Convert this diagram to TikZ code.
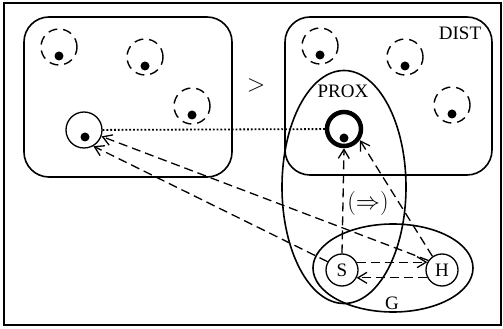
\documentclass[tikz,border=0pt]{standalone}
\usepackage{fontspec}
\setmainfont{Liberation Serif}
\usetikzlibrary{arrows.meta}

\tikzset{
	spot/.style={circle, draw, line width=1.3pt, inner sep=0pt, minimum size=36pt},
	agent/.style={circle, draw, line width=1.3pt, inner sep=0pt, minimum size=32pt},
	link/.style={->, line width=1.3pt, dash pattern=on 9pt off 5pt},
	other/.style={line width=1.4pt, dash pattern=on 9pt off 6pt}
}

\begin{document}
\begin{tikzpicture}[x=1pt, y=1pt, every node/.style={font=\fontsize{19}{22}\selectfont}, >={Straight Barb[length=9pt,width=11pt]}]
	\useasboundingbox (0,0) rectangle (503,329);
	\draw[line width=1.4pt] (4,4) rectangle (501,326);
	% the two sets of states
	\draw[line width=1.6pt, rounded corners=25pt] (24,152) rectangle (232,312);
	\draw[line width=1.6pt, rounded corners=25pt] (285,154) rectangle (492,312);
	\node[scale=1.4] at (256,244) {$>$};
	\node (dist) at (460,296) {DIST};
	\foreach \x/\y in {59/282, 145/272, 192/223, 320/283, 405/272, 452/224} {
		\draw[other] (\x,\y) circle (18pt);
		\fill (\x,\y-9) circle (4.5pt);
	}
	% current and best state
	\node[spot] (cur) at (84,199) {};
	\fill (85,192) circle (4.5pt);
	\node[spot, line width=4.5pt, minimum size=34pt] (best) at (344,200) {};
	\fill (344,191) circle (4.5pt);
	\draw[line width=1.8pt, dotted] (cur) -- (best);
	% regions
	\draw[line width=1.6pt] (344,142) ellipse (62pt and 116.5pt);
	\node (prox) at (343,238) {PROX};
	\draw[line width=1.6pt] (393,61) ellipse (80pt and 44pt);
	\node (g) at (392,26) {G};
	% speaker and hearer
	\node[agent] (s) at (342,59) {S};
	\node[agent] (h) at (442,59) {H};
	\node[scale=1.4] (impl) at (368,126) {$(\Rightarrow)$};
	\draw[link] (s.28) -- (h.152);
	\draw[link] (h.208) -- (s.332);
	\draw[link] (s.north) -- (best.south);
	\draw[link] (h.125) -- (best.-35);
	\draw[link] (h.145) -- (cur.-20);
	\draw[link] (s.150) -- (cur.-60);
\end{tikzpicture}
\end{document}
